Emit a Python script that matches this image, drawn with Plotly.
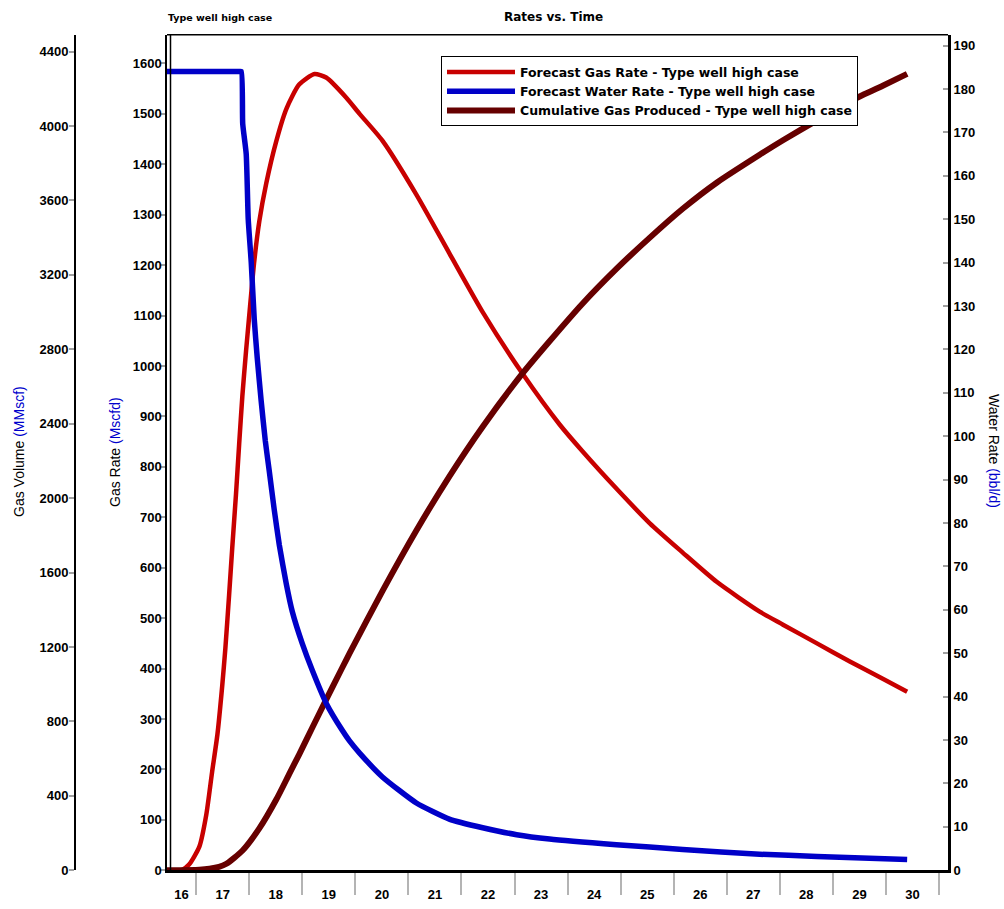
import plotly.graph_objects as go

# ---- data (time in decimal years) ----
gas_t = [2016.45, 2016.72, 2016.87, 2017.06, 2017.19, 2017.30, 2017.40, 2017.49, 2017.55,
         2017.62, 2017.68, 2017.75, 2017.81, 2017.87, 2017.94, 2018.00, 2018.09, 2018.19,
         2018.32, 2018.51, 2018.70, 2018.94, 2019.23, 2019.45, 2019.83, 2020.08, 2020.51,
         2021.15, 2021.77, 2022.40, 2023.15, 2023.85, 2024.28, 2024.92, 2025.55, 2026.17,
         2026.81, 2027.62, 2028.06, 2028.70, 2029.32, 2029.94, 2030.40]
gas_rate = [0, 0, 12, 47, 110, 195, 269, 365, 440,
            545, 640, 745, 845, 940, 1030, 1100, 1203, 1287,
            1362, 1446, 1510, 1558, 1579, 1572, 1532, 1500, 1447,
            1340, 1224, 1107, 985, 884, 831, 757, 688, 630,
            572, 513, 487, 450, 414, 380, 354]

water_t = [2016.45, 2017.80, 2017.85, 2017.877, 2017.943, 2017.981, 2018.038, 2018.094,
           2018.151, 2018.226, 2018.302, 2018.377, 2018.472, 2018.566, 2018.698, 2018.811,
           2019.00, 2019.19, 2019.45, 2019.75, 2019.89, 2020.08, 2020.51, 2021.15, 2021.77,
           2022.40, 2023.04, 2023.66, 2024.92, 2026.17, 2027.62, 2028.70, 2030.40]
water_rate = [184, 184, 184, 172, 165, 150, 140, 127,
              118, 108, 99, 92, 83, 75, 66, 59.6,
              52.2, 46, 38.5, 32.3, 29.8, 27.0, 21.5, 15.5, 11.8,
              9.8, 8.2, 7.2, 5.9, 4.8, 3.7, 3.2, 2.5]

cum_t = [2016.45, 2017.06, 2017.25, 2017.43, 2017.57, 2017.87, 2018.19, 2018.51, 2018.75,
         2018.94, 2019.19, 2019.45, 2019.75, 2019.89, 2020.51, 2021.15, 2021.77, 2022.40,
         2023.15, 2023.66, 2024.28, 2024.92, 2025.55, 2026.17, 2026.81, 2027.62, 2028.06,
         2028.70, 2029.32, 2029.94, 2030.40]
cum_gas = [0, 3, 8, 18, 35, 105, 225, 380, 515,
           622, 767, 917, 1087, 1165, 1500, 1826, 2116, 2384,
           2670, 2843, 3045, 3232, 3400, 3555, 3695, 3845, 3923,
           4030, 4133, 4216, 4280]

year_labels = [str(y) for y in range(16, 31)]

X_START, X_END = 2016.45, 2031.17
W, H = 1004, 909

RED = "#C80000"
BLUE = "#0000C8"
MAROON = "#660000"
FONT = "Arial, Liberation Sans, sans-serif"
WIDE_FONT = "DejaVu Sans, Arial, sans-serif"

# label each year in the middle of its visible span; separators at year boundaries
years = list(range(2016, 2031))
label_pos = [(max(y, X_START) + min(y + 1, X_END)) / 2 for y in years]
separators = list(range(2017, 2032))

fig = go.Figure()
fig.add_trace(go.Scatter(x=gas_t, y=gas_rate, mode="lines", yaxis="y",
                         name="Forecast Gas Rate - Type well high case",
                         line=dict(color=RED, width=4.5, shape="spline", smoothing=0.6)))
fig.add_trace(go.Scatter(x=water_t, y=water_rate, mode="lines", yaxis="y3",
                         name="Forecast Water Rate - Type well high case",
                         line=dict(color=BLUE, width=5.5, shape="spline", smoothing=0.5)))
fig.add_trace(go.Scatter(x=cum_t, y=cum_gas, mode="lines", yaxis="y2",
                         name="Cumulative Gas Produced - Type well high case",
                         line=dict(color=MAROON, width=6, shape="spline", smoothing=0.6)))

tickfont = dict(family=FONT, size=13, color="black", weight="bold")

def px_x(p):
    return p / W

def px_y(p):
    return 1 - p / H

fig.update_layout(
    width=W, height=H,
    margin=dict(l=0, r=0, t=0, b=0),
    paper_bgcolor="white", plot_bgcolor="white",
    showlegend=True,
    legend=dict(x=px_x(441), y=px_y(57), xanchor="left", yanchor="top",
                bgcolor="white", bordercolor="black", borderwidth=1,
                font=dict(family=WIDE_FONT, size=12.5, color="black", weight="bold"),
                itemwidth=68, tracegroupgap=0),
    xaxis=dict(domain=[px_x(167), px_x(948)], range=[X_START, X_END],
               showgrid=False, zeroline=False,
               showline=True, linecolor="black", linewidth=3,
               tickmode="array", tickvals=label_pos, ticktext=year_labels,
               ticks="", tickfont=tickfont, ticklabelstandoff=10,
               minor=dict(tickmode="array", tickvals=separators, ticks="outside",
                          ticklen=22, tickwidth=2, tickcolor="#B4B4B4", showgrid=False)),
    yaxis=dict(domain=[px_y(878), px_y(35)], range=[0, 1657],
               showgrid=False, zeroline=False,
               showline=True, linecolor="black", linewidth=1.5,
               tickmode="linear", tick0=0, dtick=100,
               ticks="outside", ticklen=5, tickwidth=2, tickcolor="#A0A0A0",
               tickfont=tickfont, ticklabelstandoff=-4),
    yaxis2=dict(overlaying="y", anchor="free", position=px_x(75), side="left",
                range=[0, 4490.5], showgrid=False, zeroline=False,
                showline=True, linecolor="black", linewidth=2,
                tickmode="linear", tick0=0, dtick=400,
                ticks="outside", ticklen=5, tickwidth=2, tickcolor="#A0A0A0",
                tickfont=tickfont, ticklabelstandoff=-2),
    yaxis3=dict(overlaying="y", anchor="x", side="right",
                range=[0, 192.5], showgrid=False, zeroline=False,
                showline=True, linecolor="black", linewidth=3,
                tickmode="linear", tick0=0, dtick=10,
                ticks="inside", ticklen=5, tickwidth=2, tickcolor="#A0A0A0",
                tickfont=tickfont),
)

# frame: top border and the second line of the double left border
fig.add_shape(type="line", xref="paper", yref="paper",
              x0=px_x(167), x1=px_x(948), y0=px_y(35), y1=px_y(35),
              line=dict(color="black", width=1.5))
fig.add_shape(type="line", xref="paper", yref="paper",
              x0=px_x(170.5), x1=px_x(170.5), y0=px_y(878), y1=px_y(35),
              line=dict(color="black", width=1.5))

ann = []
ann.append(dict(text="<b>Rates vs. Time</b>", x=px_x(553), y=px_y(17),
                font=dict(family=WIDE_FONT, size=12, color="black")))
ann.append(dict(text="<b>Type well high case</b>", x=px_x(166), y=px_y(18),
                xanchor="left", font=dict(family=WIDE_FONT, size=9.5, color="black")))
title_font = dict(family=FONT, size=14, color="black")
ann.append(dict(text="Gas Volume <span style=\"color:#0000CC\">(MMscf)</span>",
                x=px_x(19), y=px_y(456), textangle=-90, font=title_font))
ann.append(dict(text="Gas Rate <span style=\"color:#0000CC\">(Mscfd)</span>",
                x=px_x(115), y=px_y(456), textangle=-90, font=title_font))
ann.append(dict(text="Water Rate <span style=\"color:#0000CC\">(bbl/d)</span>",
                x=px_x(994), y=px_y(455), textangle=90, font=title_font))
for a in ann:
    a.setdefault("xanchor", "center")
    a.update(xref="paper", yref="paper", yanchor="middle", showarrow=False)
fig.update_layout(annotations=ann)

fig.write_html("out.html")
